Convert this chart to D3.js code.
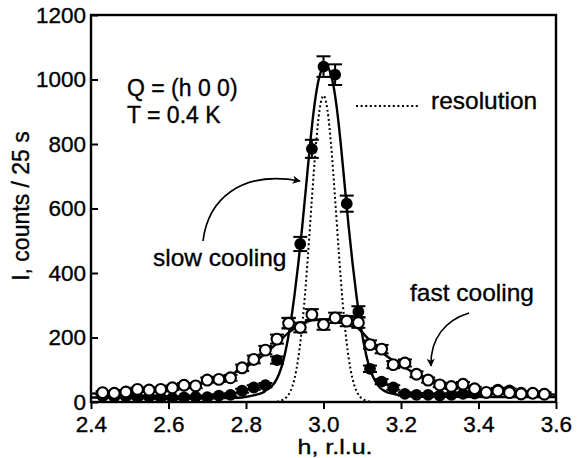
<!DOCTYPE html>
<html><head><meta charset="utf-8">
<script src="https://cdn.jsdelivr.net/npm/d3@7"></script>
<style>
body{margin:0;background:#fff}
svg text{font-family:"Liberation Sans",Arial,Helvetica,sans-serif;fill:#000;stroke:#000;stroke-width:0.35px}
</style>
</head><body><svg id="c" width="577" height="458"></svg>
<script>
// ---- data ----
const hValues = [2.43,2.46,2.49,2.52,2.55,2.58,2.61,2.64,2.67,2.70,2.73,2.76,2.79,2.82,2.85,2.88,2.91,2.94,2.97,3.00,3.03,3.06,3.09,3.12,3.15,3.18,3.21,3.24,3.27,3.30,3.33,3.36,3.39,3.42,3.45,3.48,3.51,3.54,3.57];
const fastCounts = [29,27,31,39,37,39,44,52,50,68,70,75,106,132,161,195,244,231,271,240,261,251,246,178,164,116,121,86,68,53,48,55,41,30,34,29,25,27,24];
const fastErrors = [5,5,6,6,6,6,7,7,7,8,8,9,10,12,13,14,16,15,17,16,16,16,16,13,13,11,11,9,8,7,7,7,6,6,6,5,5,5,5];
const slowCounts = [18,16,17,15,16,14,13,14,16,15,20,22,35,45,52,130,245,490,785,1040,1015,615,280,103,63,45,25,22,22,20,22,25,26,29,38,36,29,27,25];
const slowErrors = [4,4,4,4,4,4,4,4,4,4,4,5,6,7,7,11,16,22,28,32,32,25,17,10,8,7,5,5,5,4,5,5,5,5,6,6,5,5,5];

const slowFitH = [2.40,2.55,2.70,2.78,2.805,2.825,2.845,2.855,2.865,2.875,2.885,2.895,2.905,2.915,2.925,2.935,2.945,2.955,2.965,2.975,2.985,2.995,3.005,3.015,3.025,3.035,3.045,3.055,3.065,3.075,3.085,3.095,3.105,3.115,3.125,3.135,3.145,3.155,3.165,3.185,3.205,3.23,3.31,3.45,3.60];
const slowFitCounts = [14,13,12,13,17,22,30,40,48,62,86,122,175,245,330,430,543,668,795,905,985,1030,1045,1030,985,905,795,668,543,430,330,245,175,122,86,62,45,36,30,24,20,18,16,15,15];

const fastFitH = [2.40,2.45,2.50,2.55,2.60,2.65,2.70,2.73,2.76,2.79,2.82,2.85,2.88,2.91,2.94,2.97,3.00,3.03,3.06,3.09,3.12,3.15,3.18,3.21,3.24,3.27,3.30,3.33,3.36,3.40,3.45,3.50,3.55,3.60];
const fastFitCounts = [26,29,33,37,43,51,62,72,85,102,123,150,182,215,240,253,256,256,250,228,190,155,128,106,88,73,62,53,46,39,33,29,25,23];

const resolutionH = [2.88,2.89,2.90,2.91,2.92,2.93,2.94,2.95,2.96,2.97,2.98,2.99,3.00,3.01,3.02,3.03,3.04,3.05,3.06,3.07,3.08,3.09,3.10,3.11,3.12];
const resolutionCounts = [1,4,10,23,50,100,182,301,456,629,791,907,950,907,791,629,456,301,182,100,50,23,10,4,1];

const xTicks = [2.4,2.6,2.8,3.0,3.2,3.4,3.6];
const yTicks = [0,200,400,600,800,1000,1200];

// ---- drawing ----
const svg = d3.select('#c');
const x = d3.scaleLinear().domain([2.4,3.6]).range([91,556]);
const y = d3.scaleLinear().domain([0,1200]).range([402,15]);

svg.append('defs').append('clipPath').attr('id','clip')
  .append('rect').attr('x',91).attr('y',15).attr('width',465).attr('height',387);

// axes
const xAxis = svg.append('g').attr('transform','translate(0,402)')
  .call(d3.axisBottom(x).tickValues(xTicks).tickFormat(d3.format('.1f')).tickSizeInner(7).tickSizeOuter(0).tickPadding(7));
const yAxis = svg.append('g').attr('transform','translate(91,0)')
  .call(d3.axisLeft(y).tickValues(yTicks).tickFormat(d3.format('d')).tickSizeInner(-7).tickSizeOuter(0).tickPadding(5));
[xAxis,yAxis].forEach(a=>{
  a.select('.domain').remove();
  a.selectAll('.tick line').attr('stroke','#000').attr('stroke-width',2);
  a.selectAll('.tick text').attr('font-size',22.5).attr('font-family','"Liberation Sans",Arial,sans-serif').attr('fill','#000');
});

// frame
svg.append('rect').attr('x',91).attr('y',15).attr('width',465).attr('height',387)
  .attr('fill','none').attr('stroke','#000').attr('stroke-width',2.4);

// axis titles
svg.append('text').attr('x',335).attr('y',453.8).attr('text-anchor','middle').attr('font-size',21)
  .attr('textLength',75).attr('lengthAdjust','spacingAndGlyphs').text('h, r.l.u.');
svg.append('text').attr('transform','translate(29,206) rotate(-90)').attr('text-anchor','middle').attr('font-size',23).text('I, counts / 25 s');

const plot = svg.append('g').attr('clip-path','url(#clip)');
const line = d3.line().x(d=>x(d[0])).y(d=>y(d[1])).curve(d3.curveMonotoneX);

plot.append('path').datum(d3.zip(resolutionH,resolutionCounts)).attr('d',line)
  .attr('fill','none').attr('stroke','#000').attr('stroke-width',2).attr('stroke-dasharray','2,2.6');
plot.append('path').datum(d3.zip(slowFitH,slowFitCounts)).attr('d',line)
  .attr('fill','none').attr('stroke','#000').attr('stroke-width',2.4);
plot.append('path').datum(d3.zip(fastFitH,fastFitCounts)).attr('d',line)
  .attr('fill','none').attr('stroke','#000').attr('stroke-width',2.4);

function errorBars(g, counts, errs){
  const data = d3.zip(hValues, counts, errs);
  const eg = g.append('g').attr('stroke','#000').attr('stroke-width',2);
  eg.selectAll('.v').data(data).join('line')
    .attr('x1',d=>x(d[0])).attr('x2',d=>x(d[0])).attr('y1',d=>y(d[1]-d[2])).attr('y2',d=>y(d[1]+d[2]));
  eg.selectAll('.t').data(data).join('line')
    .attr('x1',d=>x(d[0])-7).attr('x2',d=>x(d[0])+7).attr('y1',d=>y(d[1]+d[2])).attr('y2',d=>y(d[1]+d[2]));
  eg.selectAll('.b').data(data).join('line')
    .attr('x1',d=>x(d[0])-7).attr('x2',d=>x(d[0])+7).attr('y1',d=>y(d[1]-d[2])).attr('y2',d=>y(d[1]-d[2]));
}
// slow cooling (filled)
const gs = plot.append('g');
errorBars(gs, slowCounts, slowErrors);
gs.selectAll('circle').data(d3.zip(hValues,slowCounts)).join('circle')
  .attr('cx',d=>x(d[0])).attr('cy',d=>y(d[1])).attr('r',5.9).attr('fill','#000');
// fast cooling (open)
const gf = plot.append('g');
errorBars(gf, fastCounts, fastErrors);
gf.selectAll('circle').data(d3.zip(hValues,fastCounts)).join('circle')
  .attr('cx',d=>x(d[0])).attr('cy',d=>y(d[1])).attr('r',5.4).attr('fill','#fff').attr('stroke','#000').attr('stroke-width',2.1);

// annotations
const ann = svg.append('g');
ann.append('text').attr('x',127).attr('y',96).attr('font-size',23).text('Q = (h 0 0)');
ann.append('text').attr('x',127).attr('y',123).attr('font-size',23).text('T = 0.4 K');
ann.append('line').attr('x1',356).attr('x2',419).attr('y1',106).attr('y2',106)
  .attr('stroke','#000').attr('stroke-width',2).attr('stroke-dasharray','2,2.6');
ann.append('text').attr('x',431).attr('y',109).attr('font-size',24.5).text('resolution');
ann.append('text').attr('x',153).attr('y',266).attr('font-size',24.5).text('slow cooling');
ann.append('text').attr('x',410).attr('y',301).attr('font-size',24.5).text('fast cooling');

const defs = svg.select('defs');
defs.append('marker').attr('id','ah').attr('viewBox','0 0 10 10').attr('refX',9).attr('refY',5)
  .attr('markerWidth',11).attr('markerHeight',8).attr('markerUnits','userSpaceOnUse').attr('orient','auto')
  .append('path').attr('d','M0,0 L10,5 L0,10 L2.5,5 Z').attr('fill','#000');
ann.append('path').attr('d','M203,241 C208,200 240,170 300,181')
  .attr('fill','none').attr('stroke','#000').attr('stroke-width',1.6).attr('marker-end','url(#ah)');
ann.append('path').attr('d','M469,313 C446,320 430,338 431,366')
  .attr('fill','none').attr('stroke','#000').attr('stroke-width',1.6).attr('marker-end','url(#ah)');
</script>
</body></html>
